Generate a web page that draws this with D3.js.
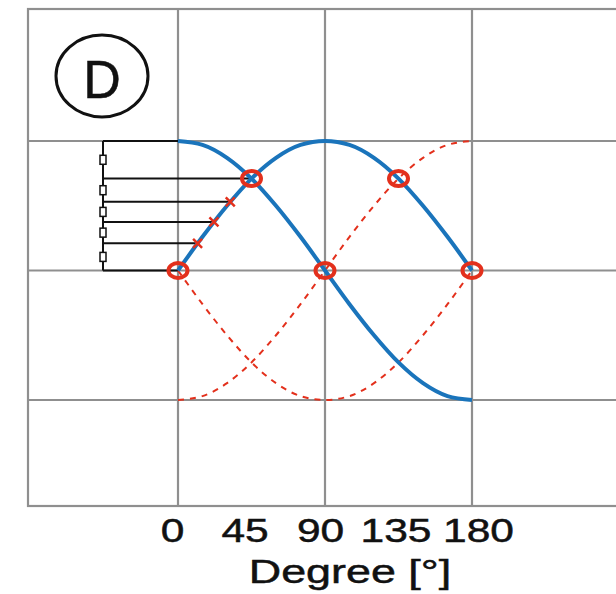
<!DOCTYPE html>
<html>
<head>
<meta charset="utf-8">
<script src="https://cdn.jsdelivr.net/npm/d3@7"></script>
<style>
  body { margin: 0; background: #fff; }
  svg { display: block; }
</style>
</head>
<body>
<svg id="chart" width="616" height="594"></svg>
<script>
var degrees   = [0, 15, 30, 45, 60, 75, 90, 105, 120, 135, 150, 165, 180];
var sinValues = [0, 0.26, 0.5, 0.71, 0.87, 0.97, 1, 0.97, 0.87, 0.71, 0.5, 0.26, 0];
var cosValues = [1, 0.97, 0.87, 0.71, 0.5, 0.26, 0, -0.26, -0.5, -0.71, -0.87, -0.97, -1];
var negSinValues = [0, -0.26, -0.5, -0.71, -0.87, -0.97, -1, -0.97, -0.87, -0.71, -0.5, -0.26, 0];
var negCosValues = [-1, -0.97, -0.87, -0.71, -0.5, -0.26, 0, 0.26, 0.5, 0.71, 0.87, 0.97, 1];

// crossing points marked with red circles
var crossDeg = [0, 45, 90, 135, 180];
var crossVal = [0, 0.71, 0, 0.71, 0];

// rods of the little mechanism on the left: height and where they end
var rodVal = [1, 0.71, 0.53, 0.375, 0.21, 0];
var rodDeg = [0, 45, 32, 22, 12, 0];
var crossMarkIdx = [2, 3, 4];

var tickDeg = [0, 45, 90, 135, 180];
var gridDeg = [0, 90, 180];
var gridVal = [-1, 0, 1];

var blue = "#1a74bb";
var red = "#e3301c";
var gridColor = "#8f8f8f";
var font = "Liberation Sans";
var textStretch = 1.32;
var tickStretch = 1.25;
// labels sit a little off their ticks in the original
var tickShift = [-6, -7, -5, -3, 6];

var svg = d3.select("#chart");

var x = d3.scaleLinear().domain([0, 180]).range([178, 472]);
var y = d3.scaleLinear().domain([-1, 1]).range([400, 141]);

// plot frame, open on the right
var frameL = 28, frameT = 9, frameB = 506, frameR = 640;
svg.append("rect")
    .attr("x", frameL)
    .attr("y", frameT)
    .attr("width", frameR - frameL)
    .attr("height", frameB - frameT)
    .attr("fill", "none")
    .attr("stroke", gridColor)
    .attr("stroke-width", 2.2);

// grid
svg.selectAll(".vgrid")
    .data(gridDeg)
    .enter()
    .append("line")
    .attr("x1", function(d) { return x(d); })
    .attr("x2", function(d) { return x(d); })
    .attr("y1", frameT)
    .attr("y2", frameB)
    .attr("stroke", gridColor)
    .attr("stroke-width", 2.2);

svg.selectAll(".hgrid")
    .data(gridVal)
    .enter()
    .append("line")
    .attr("x1", frameL)
    .attr("x2", frameR)
    .attr("y1", function(d) { return y(d); })
    .attr("y2", function(d) { return y(d); })
    .attr("stroke", gridColor)
    .attr("stroke-width", 2.2);

// circled D label
svg.append("ellipse")
    .attr("cx", 102)
    .attr("cy", 76)
    .attr("rx", 46)
    .attr("ry", 41)
    .attr("fill", "#fff")
    .attr("stroke", "#111")
    .attr("stroke-width", 3);
svg.append("text")
    .attr("transform", "translate(102,98) scale(0.98,1)")
    .attr("text-anchor", "middle")
    .style("font-family", font)
    .style("font-size", "53px")
    .attr("fill", "#111")
    .attr("stroke", "#111")
    .attr("stroke-width", 0.5)
    .text("D");

// mechanism on the left
var rodX = 103;
svg.append("line")
    .attr("x1", rodX)
    .attr("x2", rodX)
    .attr("y1", y(rodVal[0]))
    .attr("y2", y(rodVal[rodVal.length - 1]))
    .attr("stroke", "#111")
    .attr("stroke-width", 2);

svg.selectAll(".rod")
    .data(rodVal)
    .enter()
    .append("line")
    .attr("x1", rodX)
    .attr("x2", function(d, i) { return x(rodDeg[i]); })
    .attr("y1", function(d) { return y(d); })
    .attr("y2", function(d) { return y(d); })
    .attr("stroke", "#111")
    .attr("stroke-width", 2);

svg.selectAll(".knot")
    .data(rodVal.slice(1))
    .enter()
    .append("rect")
    .attr("x", rodX - 3)
    .attr("y", function(d, i) { return (y(d) + y(rodVal[i])) / 2 - 4.5; })
    .attr("width", 6)
    .attr("height", 9)
    .attr("fill", "#fff")
    .attr("stroke", "#111")
    .attr("stroke-width", 1.5);

// curves
var line = d3.line()
    .x(function(d, i) { return x(degrees[i]); })
    .y(function(d) { return y(d); })
    .curve(d3.curveMonotoneX);

[negSinValues, negCosValues].forEach(function(vals) {
    svg.append("path")
        .attr("d", line(vals))
        .attr("fill", "none")
        .attr("stroke", red)
        .attr("stroke-width", 2)
        .attr("stroke-dasharray", "6 6");
});

[sinValues, cosValues].forEach(function(vals) {
    svg.append("path")
        .attr("d", line(vals))
        .attr("fill", "none")
        .attr("stroke", blue)
        .attr("stroke-width", 4);
});

// red crosses where the short rods meet the curve
crossMarkIdx.forEach(function(k) {
    var cx = x(rodDeg[k]), cy = y(rodVal[k]), s = 4.5;
    svg.append("path")
        .attr("d", "M" + (cx - s) + "," + (cy - s) + "L" + (cx + s) + "," + (cy + s) +
                   "M" + (cx - s) + "," + (cy + s) + "L" + (cx + s) + "," + (cy - s))
        .attr("stroke", red)
        .attr("stroke-width", 2.5);
});

// red circles at the crossings
svg.selectAll(".cross")
    .data(crossDeg)
    .enter()
    .append("ellipse")
    .attr("cx", function(d) { return x(d); })
    .attr("cy", function(d, i) { return y(crossVal[i]); })
    .attr("rx", 9.5)
    .attr("ry", 7.5)
    .attr("fill", "none")
    .attr("stroke", red)
    .attr("stroke-width", 4);

// x axis labels
var xAxis = svg.append("g")
    .attr("transform", "translate(0," + frameB + ")")
    .call(d3.axisBottom(x).tickValues(tickDeg).tickSize(0).tickPadding(0));
xAxis.select(".domain").remove();
xAxis.selectAll("text")
    .attr("y", 36)
    .attr("dy", null)
    .attr("transform", function(d, i) {
        return "translate(" + tickShift[i] + ",0) scale(" + tickStretch + ",1)";
    })
    .style("font-family", font)
    .style("font-size", "34px")
    .attr("fill", "#111")
    .attr("stroke", "#111")
    .attr("stroke-width", 0.5);

svg.append("text")
    .attr("transform", "translate(350,583) scale(" + textStretch + ",1)")
    .attr("text-anchor", "middle")
    .style("font-family", font)
    .style("font-size", "34px")
    .attr("fill", "#111")
    .attr("stroke", "#111")
    .attr("stroke-width", 0.5)
    .text("Degree [°]");
</script>
</body>
</html>
